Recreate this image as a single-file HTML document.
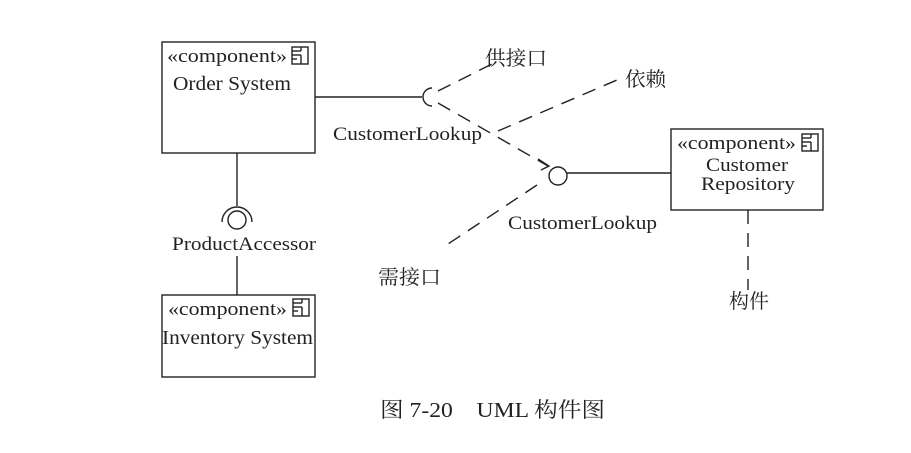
<!DOCTYPE html>
<html><head><meta charset="utf-8"><style>
html,body{margin:0;padding:0;background:#fff;width:911px;height:453px;overflow:hidden}
text{font-family:"Liberation Serif","Noto Serif CJK SC",serif;fill:#222}
.cj{font-family:"Liberation Serif","Noto Serif CJK SC",serif}
</style></head><body>
<svg width="911" height="453" viewBox="0 0 911 453" xmlns="http://www.w3.org/2000/svg">
<defs>
<g id="ic" fill="none" stroke="#222" stroke-width="1.4">
<rect x="0" y="0" width="16" height="17"/>
<line x1="0" y1="8" x2="9" y2="8"/>
<line x1="9" y1="8" x2="9" y2="17"/>
<line x1="0" y1="4" x2="9" y2="4"/>
<line x1="9" y1="0" x2="9" y2="4"/>
<line x1="0" y1="12" x2="5" y2="12"/>
</g>
</defs>
<g fill="none" stroke="#222" stroke-width="1.4">
<rect x="162" y="42" width="153" height="111"/>
<rect x="162" y="295" width="153" height="82"/>
<rect x="671" y="129" width="152" height="81"/>
<line x1="315" y1="97" x2="422" y2="97"/>
<path d="M432 88 A9 9 0 0 0 432 106"/>
<line x1="237" y1="153" x2="237" y2="206"/>
<circle cx="237" cy="220" r="9"/>
<path d="M222 222 A15 15 0 0 1 252 222"/>
<line x1="237" y1="256" x2="237" y2="295"/>
<circle cx="558" cy="176" r="9"/>
<line x1="567" y1="173" x2="671" y2="173"/>
<path d="M538 159 L549 166 L541 170"/>
</g>
<g fill="none" stroke="#222" stroke-width="1.4" stroke-dasharray="14,9">
<line x1="438" y1="91" x2="500" y2="60"/>
<line x1="438" y1="103" x2="548" y2="166"/>
<line x1="498" y1="131" x2="617" y2="80"/>
<line x1="537" y1="185" x2="445" y2="246"/>
<line x1="748" y1="210" x2="748" y2="290"/>
</g>
<use href="#ic" x="292" y="47"/>
<use href="#ic" x="293" y="299"/>
<use href="#ic" x="802" y="134"/>
<text x="167" y="62" font-size="19" textLength="120" lengthAdjust="spacingAndGlyphs">«component»</text>
<text x="173" y="90" font-size="20" textLength="118" lengthAdjust="spacingAndGlyphs">Order System</text>
<text x="168" y="315" font-size="19" textLength="119" lengthAdjust="spacingAndGlyphs">«component»</text>
<text x="162" y="344" font-size="20" textLength="151" lengthAdjust="spacingAndGlyphs">Inventory System</text>
<text x="677" y="149" font-size="19" textLength="119" lengthAdjust="spacingAndGlyphs">«component»</text>
<text x="706" y="171" font-size="19" textLength="82" lengthAdjust="spacingAndGlyphs">Customer</text>
<text x="701" y="190" font-size="19" textLength="94" lengthAdjust="spacingAndGlyphs">Repository</text>
<text x="333" y="140" font-size="19" textLength="149" lengthAdjust="spacingAndGlyphs">CustomerLookup</text>
<text x="508" y="229" font-size="19" textLength="149" lengthAdjust="spacingAndGlyphs">CustomerLookup</text>
<text x="172" y="250" font-size="19" textLength="144" lengthAdjust="spacingAndGlyphs">ProductAccessor</text>
<text x="485" y="65" font-size="20" class="cj" textLength="62" lengthAdjust="spacingAndGlyphs">供接口</text>
<text x="625" y="86" font-size="20" class="cj" textLength="41" lengthAdjust="spacingAndGlyphs">依赖</text>
<text x="378" y="284" font-size="20" class="cj" textLength="63" lengthAdjust="spacingAndGlyphs">需接口</text>
<text x="729" y="308" font-size="20" class="cj" textLength="40" lengthAdjust="spacingAndGlyphs">构件</text>
<text x="380" y="417" font-size="21" class="cj" textLength="225" lengthAdjust="spacingAndGlyphs">图 7-20　UML 构件图</text>
</svg>
</body></html>
